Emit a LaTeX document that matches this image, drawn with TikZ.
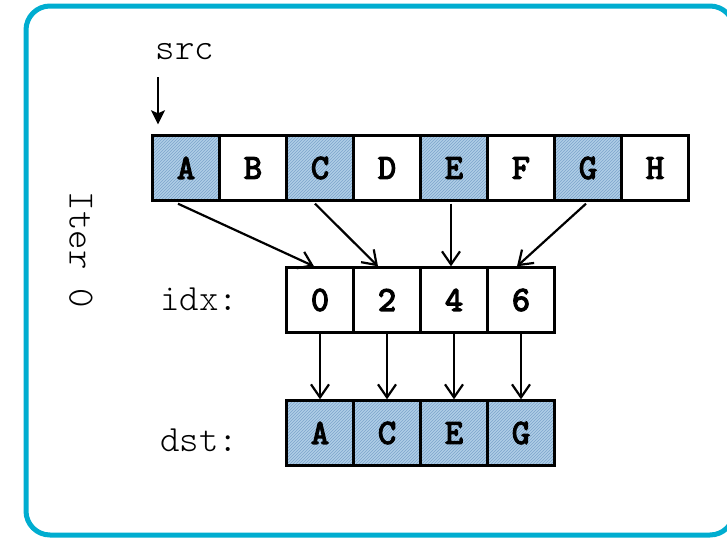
\documentclass[tikz,border=0pt]{standalone}
\usepackage{fontspec}
\setmonofont{Latin Modern Mono Light}
\newfontfamily\cellfont[FakeBold=4]{Latin Modern Mono}
\usetikzlibrary{arrows.meta,patterns}
\definecolor{framecyan}{RGB}{0,173,208}
\definecolor{cellblue}{RGB}{176,206,231}
\definecolor{hatchblue}{RGB}{124,164,204}
\tikzset{
  cell/.style={draw=black, line width=2.4pt, minimum width=67pt, minimum height=65pt,
    inner sep=0pt, font=\fontsize{35}{35}\selectfont\cellfont},
  picked/.style={cell, preaction={fill=cellblue}, pattern=north east lines, pattern color=hatchblue},
  lbl/.style={font=\fontsize{37}{37}\selectfont\ttfamily, inner sep=0pt},
  link/.style={line width=2.2pt, -{Straight Barb[length=13pt,width=18pt,line width=2.2pt]}},
}
\begin{document}
\begin{tikzpicture}[x=1pt,y=-1pt]
\useasboundingbox (0,0) rectangle (727,538);
% outer frame
\draw[framecyan, line width=5pt, rounded corners=24pt] (26,6) rectangle (734,535);

% source array
\node[picked] (s1) at (186,168) {A};
\node[cell]   (s2) at (253,168) {B};
\node[picked] (s3) at (320,168) {C};
\node[cell]   (s4) at (387,168) {D};
\node[picked] (s5) at (454,168) {E};
\node[cell]   (s6) at (521,168) {F};
\node[picked] (s7) at (588,168) {G};
\node[cell]   (s8) at (655,168) {H};

% index array
\node[cell] (i1) at (320,300) {0};
\node[cell] (i2) at (387,300) {2};
\node[cell] (i3) at (454,300) {4};
\node[cell] (i4) at (521,300) {6};

% destination array
\node[picked] (d1) at (320,433) {A};
\node[picked] (d2) at (387,433) {C};
\node[picked] (d3) at (454,433) {E};
\node[picked] (d4) at (521,433) {G};

% labels
\node[lbl] (srclbl) at (185,52) {src};
\node[lbl] (idxlbl) at (199,299) {idx:};
\node[lbl] (dstlbl) at (199,440) {dst:};
\node[lbl, rotate=-90] (iter) at (81,250) {Iter 0};

% src pointer
\coordinate (srctop) at (158,77);
\draw[line width=2.2pt, -{Stealth[length=14pt,width=14pt,inset=3pt]}] (srctop) -- ([xshift=-28pt,yshift=10pt]s1.north);

% gather links
\draw[link] ([xshift=-8pt,yshift=-2pt]s1.south) -- ([xshift=-6pt]i1.north);
\draw[link] ([xshift=-5pt,yshift=-2pt]s3.south) -- ([xshift=-9pt]i2.north);
\draw[link] ([xshift=-3pt,yshift=-2pt]s5.south) -- ([xshift=-3pt]i3.north);
\draw[link] ([xshift=-2pt,yshift=-2pt]s7.south) -- ([xshift=-4pt]i4.north);

\draw[link] (i1.south) -- (d1.north);
\draw[link] (i2.south) -- (d2.north);
\draw[link] (i3.south) -- (d3.north);
\draw[link] (i4.south) -- (d4.north);
\end{tikzpicture}
\end{document}
